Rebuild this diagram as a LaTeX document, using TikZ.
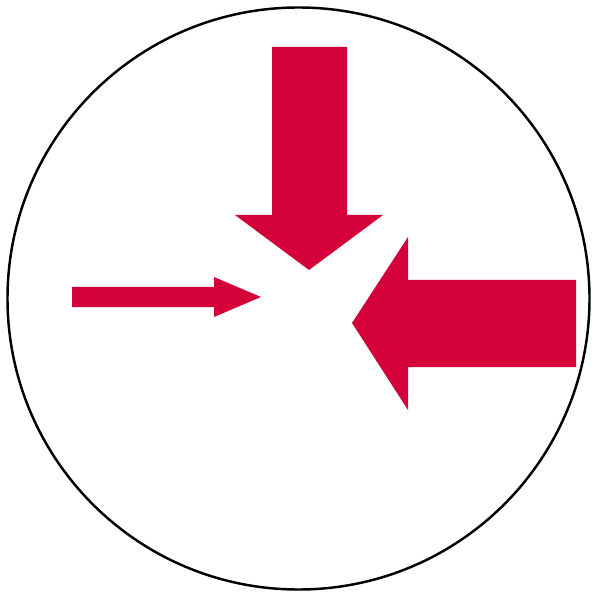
\documentclass[tikz,border=0pt]{standalone}
\usepackage{tikz}
\definecolor{cRed}{HTML}{D3003A}
\tikzset{
  fatarr/.style={fill=cRed,draw=none},
  ring/.style={draw=black,line width=1.4pt},
}
\begin{document}
\begin{tikzpicture}[x=0.02cm,y=-0.02cm]
    % frame (596 x 597 px)
    \useasboundingbox (0,0) rectangle (596,597);
    \draw[ring] (298.5,298.5) circle (291);
    % top arrow
    \fill[fatarr] (272,47) -- (347,47) -- (347,215) -- (383,215) -- (309,270)
      -- (235,215) -- (272,215) -- cycle;
    % right arrow
    \fill[fatarr] (576,280) -- (576,367) -- (408,367) -- (408,410) -- (352,323)
      -- (408,237) -- (408,280) -- cycle;
    % left arrow
    \fill[fatarr] (72,287) -- (214,287) -- (214,277) -- (261,297) -- (214,317)
      -- (214,307) -- (72,307) -- cycle;
  \end{tikzpicture}
\end{document}
